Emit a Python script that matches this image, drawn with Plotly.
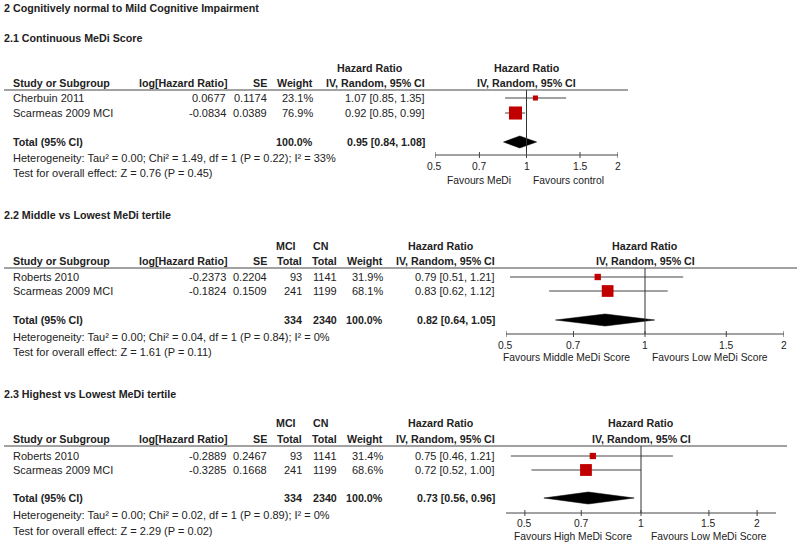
import numpy as np
import plotly.graph_objects as go

W, H = 800, 546
FONT = "Liberation Sans, Arial, sans-serif"
TC = "#222222"
LC = "#444444"
RED = "#c00000"
FS = 11
FSB = 10.7
FST = 10.3

# ---------------- data ----------------
title = "2 Cognitively normal to Mild Cognitive Impairment"

s1_title = "2.1 Continuous MeDi Score"
s1_study = ["Cherbuin 2011", "Scarmeas 2009 MCI"]
s1_loghr = [0.0677, -0.0834]
s1_se = [0.1174, 0.0389]
s1_weight = [23.1, 76.9]
s1_hr = [1.07, 0.92]
s1_lo = [0.85, 0.85]
s1_hi = [1.35, 0.99]
s1_total = [0.95, 0.84, 1.08]
s1_het = "Heterogeneity: Tau² = 0.00; Chi² = 1.49, df = 1 (P = 0.22); I² = 33%"
s1_test = "Test for overall effect: Z = 0.76 (P = 0.45)"
s1_fav = ["Favours MeDi", "Favours control"]

s2_title = "2.2 Middle vs Lowest MeDi tertile"
s2_study = ["Roberts 2010", "Scarmeas 2009 MCI"]
s2_loghr = [-0.2373, -0.1824]
s2_se = [0.2204, 0.1509]
s2_mci = [93, 241]
s2_cn = [1141, 1199]
s2_weight = [31.9, 68.1]
s2_hr = [0.79, 0.83]
s2_lo = [0.51, 0.62]
s2_hi = [1.21, 1.12]
s2_total = [0.82, 0.64, 1.05]
s2_het = "Heterogeneity: Tau² = 0.00; Chi² = 0.04, df = 1 (P = 0.84); I² = 0%"
s2_test = "Test for overall effect: Z = 1.61 (P = 0.11)"
s2_fav = ["Favours Middle MeDi Score", "Favours Low MeDi Score"]

s3_title = "2.3 Highest vs Lowest MeDi tertile"
s3_study = ["Roberts 2010", "Scarmeas 2009 MCI"]
s3_loghr = [-0.2889, -0.3285]
s3_se = [0.2467, 0.1668]
s3_mci = [93, 241]
s3_cn = [1141, 1199]
s3_weight = [31.4, 68.6]
s3_hr = [0.75, 0.72]
s3_lo = [0.46, 0.52]
s3_hi = [1.21, 1.00]
s3_total = [0.73, 0.56, 0.96]
s3_het = "Heterogeneity: Tau² = 0.00; Chi² = 0.02, df = 1 (P = 0.89); I² = 0%"
s3_test = "Test for overall effect: Z = 2.29 (P = 0.02)"
s3_fav = ["Favours High MeDi Score", "Favours Low MeDi Score"]

tick_vals = [0.5, 0.7, 1, 1.5, 2]
tick_text = ["0.5", "0.7", "1", "1.5", "2"]

# ---------------- layout geometry (pixels) ----------------
sections = [
    dict(ax="x", title=s1_title, study=s1_study, loghr=s1_loghr, se=s1_se, mci=None, cn=None,
         weight=s1_weight, hr=s1_hr, lo=s1_lo, hi=s1_hi, total=s1_total, het=s1_het, test=s1_test,
         fav=s1_fav, sub_y=38, h1_y=68, h2_y=83, line_y=90, rows_y=[98, 113], tot_y=142,
         het_y=158, test_y=173, axis_y=155, tick_y=166, fav_y=180, line_x1=628,
         dom=(435, 618), rng=(np.log10(0.5), np.log10(2)),
         col_w=313, col_hr=425, col_hrh=370, fav_x=(479, 568)),
    dict(ax="x2", title=s2_title, study=s2_study, loghr=s2_loghr, se=s2_se, mci=s2_mci, cn=s2_cn,
         weight=s2_weight, hr=s2_hr, lo=s2_lo, hi=s2_hi, total=s2_total, het=s2_het, test=s2_test,
         fav=s2_fav, sub_y=215, h1_y=246, h2_y=261, line_y=268, rows_y=[277, 291], tot_y=320,
         het_y=337, test_y=352, axis_y=334, tick_y=345, fav_y=357, line_x1=797,
         dom=(506, 784), rng=(np.log10(0.5), np.log10(2)),
         col_w=383, col_hr=495, col_hrh=441, fav_x=(566, 710)),
    dict(ax="x3", title=s3_title, study=s3_study, loghr=s3_loghr, se=s3_se, mci=s3_mci, cn=s3_cn,
         weight=s3_weight, hr=s3_hr, lo=s3_lo, hi=s3_hi, total=s3_total, het=s3_het, test=s3_test,
         fav=s3_fav, sub_y=394, h1_y=423, h2_y=439, line_y=446, rows_y=[456, 470], tot_y=498,
         het_y=515, test_y=531, axis_y=513, tick_y=523, fav_y=536, line_x1=787,
         dom=(506, 776), rng=(-0.35, 0.35),
         col_w=383, col_hr=495, col_hrh=441, fav_x=(573, 709)),
]

fig = go.Figure()


def txt(x, y, s, anchor="left", bold=False, size=FS, xref="paper"):
    if bold:
        s = "<b>" + s + "</b>"
        if size == FS:
            size = FSB
    fig.add_annotation(x=(x / W) if xref == "paper" else x, xref=xref, y=y, yref="y",
                       text=s, showarrow=False, xanchor=anchor, yanchor="middle",
                       font=dict(size=size, color=TC, family=FONT),
                       borderpad=0, borderwidth=0)


def hline(x0, x1, y):
    fig.add_shape(type="line", xref="paper", yref="y", x0=x0 / W, x1=x1 / W, y0=y, y1=y,
                  line=dict(color=LC, width=1))


txt(4, 8, title, bold=True)

for S in sections:
    ax = S["ax"]
    txt(4, S["sub_y"], S["title"], bold=True)
    # headers
    txt(13, S["h2_y"], "Study or Subgroup", bold=True)
    txt(227, S["h2_y"], "log[Hazard Ratio]", anchor="right", bold=True)
    txt(267, S["h2_y"], "SE", anchor="right", bold=True)
    if S["mci"] is not None:
        txt(286, S["h1_y"], "MCI", anchor="center", bold=True)
        txt(320, S["h1_y"], "CN", anchor="center", bold=True)
        txt(302, S["h2_y"], "Total", anchor="right", bold=True)
        txt(337, S["h2_y"], "Total", anchor="right", bold=True)
    txt(S["col_w"], S["h2_y"], "Weight", anchor="right", bold=True)
    txt(S["col_hrh"], S["h1_y"], "Hazard Ratio", anchor="center", bold=True)
    txt(S["col_hr"], S["h2_y"], "IV, Random, 95% CI", anchor="right", bold=True)
    txt(0, S["h1_y"], "Hazard Ratio", anchor="center", bold=True, xref=ax)
    txt(0, S["h2_y"], "IV, Random, 95% CI", anchor="center", bold=True, xref=ax)
    hline(4, S["line_x1"], S["line_y"])

    # rows
    for i, name in enumerate(S["study"]):
        y = S["rows_y"][i]
        txt(13, y, name)
        txt(226, y, f"{S['loghr'][i]:.4f}", anchor="right")
        txt(267, y, f"{S['se'][i]:.4f}", anchor="right")
        if S["mci"] is not None:
            txt(302, y, str(S["mci"][i]), anchor="right")
            txt(337, y, str(S["cn"][i]), anchor="right")
        txt(S["col_w"], y, f"{S['weight'][i]:.1f}%", anchor="right")
        txt(S["col_hr"], y, f"{S['hr'][i]:.2f} [{S['lo'][i]:.2f}, {S['hi'][i]:.2f}]", anchor="right")
        # CI line
        fig.add_trace(go.Scatter(x=[S["lo"][i], S["hi"][i]], y=[y, y], mode="lines",
                                 line=dict(color=LC, width=1), xaxis=ax, yaxis="y",
                                 hoverinfo="skip"))
        fig.add_trace(go.Scatter(x=[S["hr"][i]], y=[y], mode="markers",
                                 marker=dict(symbol="square", color=RED,
                                             size=1.6 + 0.149 * S["weight"][i], line=dict(width=0)),
                                 xaxis=ax, yaxis="y", hoverinfo="skip"))

    # total
    ty = S["tot_y"]
    txt(13, ty, "Total (95% CI)", bold=True)
    if S["mci"] is not None:
        txt(302, ty, str(sum(S["mci"])), anchor="right", bold=True)
        txt(337, ty, str(sum(S["cn"])), anchor="right", bold=True)
    txt(S["col_w"], ty, "100.0%", anchor="right", bold=True)
    t = S["total"]
    txt(S["col_hr"], ty, f"{t[0]:.2f} [{t[1]:.2f}, {t[2]:.2f}]", anchor="right", bold=True)
    fig.add_trace(go.Scatter(x=[t[1], t[0], t[2], t[0], t[1]],
                             y=[ty, ty - 6, ty, ty + 6, ty], mode="lines", fill="toself",
                             fillcolor="black", line=dict(color="black", width=0.5),
                             xaxis=ax, yaxis="y", hoverinfo="skip"))
    txt(13, S["het_y"], S["het"])
    txt(13, S["test_y"], S["test"])

    # null line
    fig.add_trace(go.Scatter(x=[1, 1], y=[S["line_y"], S["axis_y"]], mode="lines",
                             line=dict(color="#333333", width=1), xaxis=ax, yaxis="y",
                             hoverinfo="skip"))
    # axis line & ticks
    ay = S["axis_y"]
    lo_r, hi_r = 10 ** S["rng"][0], 10 ** S["rng"][1]
    tx, ty2 = [lo_r, hi_r, None], [ay, ay, None]
    for v in tick_vals:
        tx += [v, v, None]
        ty2 += [ay - 3, ay + 3, None]
    fig.add_trace(go.Scatter(x=tx, y=ty2, mode="lines", line=dict(color=LC, width=1),
                             xaxis=ax, yaxis="y", hoverinfo="skip", cliponaxis=False))
    for v, lab in zip(tick_vals, tick_text):
        txt(np.log10(v), S["tick_y"], lab, anchor="center", size=FST, xref=ax)
    txt(S["fav_x"][0], S["fav_y"], S["fav"][0], anchor="center", size=FST)
    txt(S["fav_x"][1], S["fav_y"], S["fav"][1], anchor="center", size=FST)

axis_common = dict(type="log", visible=False, showgrid=False, zeroline=False, anchor="y",
                   fixedrange=True)
fig.update_layout(
    width=W, height=H, margin=dict(l=0, r=0, t=0, b=0),
    paper_bgcolor="white", plot_bgcolor="rgba(0,0,0,0)", showlegend=False,
    font=dict(family=FONT, color=TC),
    yaxis=dict(range=[H, 0], domain=[0, 1], visible=False, fixedrange=True),
    xaxis=dict(domain=[sections[0]["dom"][0] / W, sections[0]["dom"][1] / W],
               range=list(sections[0]["rng"]), **axis_common),
    xaxis2=dict(domain=[sections[1]["dom"][0] / W, sections[1]["dom"][1] / W],
                range=list(sections[1]["rng"]), **axis_common),
    xaxis3=dict(domain=[sections[2]["dom"][0] / W, sections[2]["dom"][1] / W],
                range=list(sections[2]["rng"]), **axis_common),
)

fig.write_html("out.html", config={"displayModeBar": False},
               post_script="document.body.style.margin='0';document.body.style.overflow='hidden';")
